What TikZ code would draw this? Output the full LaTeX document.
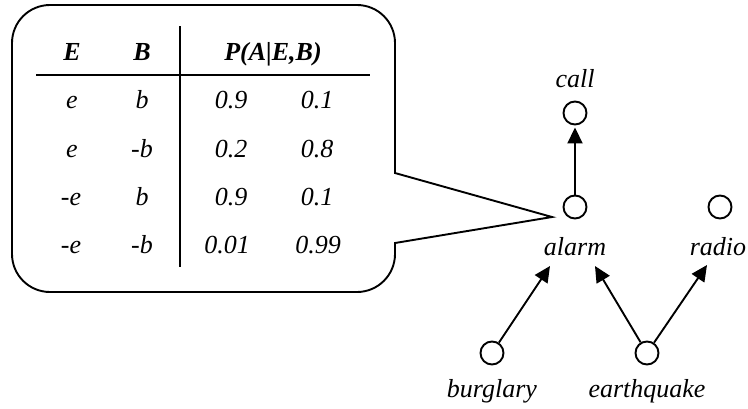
\documentclass[tikz,border=0pt]{standalone}
\usepackage{fontspec}
\setmainfont{Liberation Serif}
\usetikzlibrary{arrows.meta}
\begin{document}
\begin{tikzpicture}[x=1pt,y=-1pt,
  txt/.style={font=\fontsize{26}{30}\selectfont\itshape, inner sep=0pt, anchor=base},
  hdr/.style={txt, font=\fontsize{26}{30}\selectfont\bfseries\itshape},
  var/.style={circle, draw, line width=1.9pt, minimum size=23pt, inner sep=0pt},
  edge/.style={line width=1.9pt, -{Triangle[length=16pt,width=15pt]}},
  rule/.style={line width=1.9pt}]
\useasboundingbox (0,0) rectangle (748,408);

% callout holding the conditional probability table
\coordinate (tip) at (552,217);
\draw[line width=1.9pt, fill=white]
  (tip) -- (395,243)
  [rounded corners=38pt] -- (395,292) -- (12,292) -- (12,5) -- (395,5)
  [sharp corners] -- (395,173) -- cycle;

% table header
\node[hdr] (hE) at (72,60) {E};
\node[hdr] (hB) at (142,60) {B};
\node[hdr] (hP) at (273,60) {P(A|E,B)};
\coordinate (hl1) at (36,75);
\coordinate (hl2) at (370,75);
\coordinate (vl1) at (180,26);
\coordinate (vl2) at (180,267);
\draw[rule] (hl1) -- (hl2);
\draw[rule] (vl1) -- (vl2);

% table rows
\node[txt] (r1e) at (72,108) {e};
\node[txt] (r1b) at (142,108) {b};
\node[txt] (r1p) at (231,108) {0.9};
\node[txt] (r1q) at (317,108) {0.1};
\node[txt] (r2e) at (72,157) {e};
\node[txt] (r2b) at (142,157) {-b};
\node[txt] (r2p) at (231,157) {0.2};
\node[txt] (r2q) at (317,157) {0.8};
\node[txt] (r3e) at (71,205) {-e};
\node[txt] (r3b) at (142,205) {b};
\node[txt] (r3p) at (231,205) {0.9};
\node[txt] (r3q) at (317,205) {0.1};
\node[txt] (r4e) at (71,253) {-e};
\node[txt] (r4b) at (142,253) {-b};
\node[txt] (r4p) at (227,253) {0.01};
\node[txt] (r4q) at (318,253) {0.99};

% network variables
\node[var] (call) at (575,113) {};
\node[var] (alarm) at (575,207) {};
\node[var] (radio) at (720,207) {};
\node[var] (burglary) at (492,353) {};
\node[var] (earthquake) at (647,353) {};

\node[txt] (callL) at (575,87) {call};
\node[txt] (alarmL) at (575,255) {alarm};
\node[txt] (radioL) at (718,255) {radio};
\node[txt] (burglaryL) at (492,397) {burglary};
\node[txt] (earthquakeL) at (647,397) {earthquake};

% arrow ends below the labels
\coordinate (aIn1) at (550,266);
\coordinate (aIn2) at (595,266);
\coordinate (rIn) at (707,265);

\draw[edge, shorten >=2pt] (alarm) -- (call);
\draw[edge] (burglary) -- (aIn1);
\draw[edge] (earthquake) -- (aIn2);
\draw[edge] (earthquake) -- (rIn);
\end{tikzpicture}
\end{document}
